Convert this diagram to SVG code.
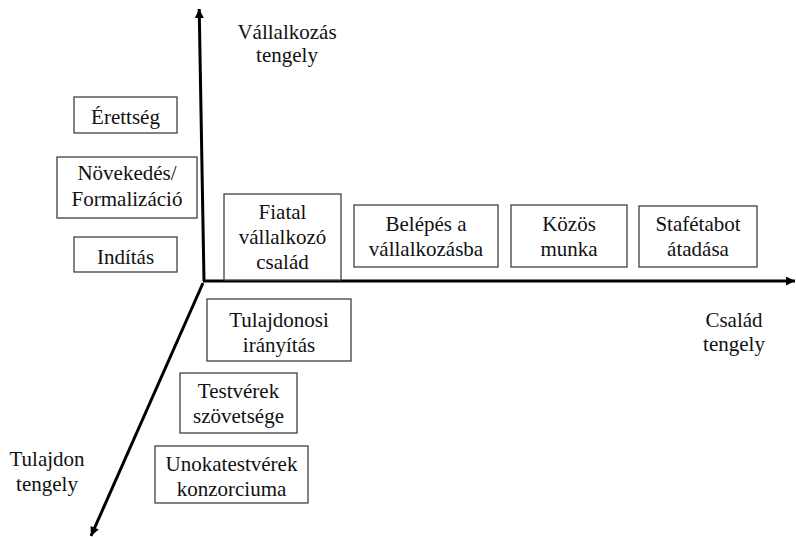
<svg xmlns="http://www.w3.org/2000/svg" width="796" height="537" viewBox="0 0 796 537">
<defs>
<marker id="ah" viewBox="0 0 10 10" refX="10" refY="5" markerWidth="11" markerHeight="9" markerUnits="userSpaceOnUse" orient="auto">
<path d="M0,0 L10,5 L0,10 z" fill="#000"/>
</marker>
</defs>
<style>
.box{fill:#fff;stroke:#404040;stroke-width:1.3}
.t{font-family:'Liberation Serif','Times New Roman',serif;font-size:21px;fill:#111;text-anchor:middle}
.ax{stroke:#000;stroke-width:3;fill:none}
</style>
<rect width="796" height="537" fill="#fff"/>
<g id="connectors">
<line class="ax" x1="204" y1="281" x2="199.2" y2="9" marker-end="url(#ah)"/>
<line class="ax" x1="203" y1="281" x2="795" y2="281" marker-end="url(#ah)"/>
<line class="ax" x1="203" y1="283" x2="91" y2="536" marker-end="url(#ah)"/>
</g>
<g id="label-vallalkozas"><text class="t"><tspan x="287" y="39">Vállalkozás</tspan><tspan x="287" y="62">tengely</tspan></text></g>
<g id="label-csalad"><text class="t"><tspan x="734" y="327">Család</tspan><tspan x="734" y="351">tengely</tspan></text></g>
<g id="label-tulajdon"><text class="t"><tspan x="47" y="466">Tulajdon</tspan><tspan x="47" y="491">tengely</tspan></text></g>
<g id="n-erettseg"><rect class="box" x="74" y="97" width="103" height="36"/><text class="t" x="125.5" y="124">Érettség</text></g>
<g id="n-novekedes"><rect class="box" x="57" y="157" width="140" height="61"/><text class="t"><tspan x="127" y="180">Növekedés/</tspan><tspan x="127" y="206">Formalizáció</tspan></text></g>
<g id="n-inditas"><rect class="box" x="74" y="237" width="103" height="35"/><text class="t" x="125.5" y="264">Indítás</text></g>
<g id="n-fiatal"><rect class="box" x="224" y="194" width="117" height="86"/><text class="t"><tspan x="282.5" y="219">Fiatal</tspan><tspan x="282.5" y="244">vállalkozó</tspan><tspan x="282.5" y="269">család</tspan></text></g>
<g id="n-belepes"><rect class="box" x="354" y="205" width="144" height="62"/><text class="t"><tspan x="426" y="231">Belépés a</tspan><tspan x="426" y="256">vállalkozásba</tspan></text></g>
<g id="n-kozos"><rect class="box" x="511" y="205" width="116" height="62"/><text class="t"><tspan x="569" y="231">Közös</tspan><tspan x="569" y="256">munka</tspan></text></g>
<g id="n-stafeta"><rect class="box" x="639" y="206" width="118" height="61"/><text class="t"><tspan x="698" y="231">Stafétabot</tspan><tspan x="698" y="256">átadása</tspan></text></g>
<g id="n-tulajdonosi"><rect class="box" x="207" y="299" width="144" height="62"/><text class="t"><tspan x="279" y="327">Tulajdonosi</tspan><tspan x="279" y="352">irányítás</tspan></text></g>
<g id="n-testverek"><rect class="box" x="180" y="373" width="117" height="60"/><text class="t"><tspan x="238.5" y="398">Testvérek</tspan><tspan x="238.5" y="423">szövetsége</tspan></text></g>
<g id="n-unoka"><rect class="box" x="155" y="446" width="153" height="57"/><text class="t"><tspan x="231.5" y="471">Unokatestvérek</tspan><tspan x="231.5" y="496">konzorciuma</tspan></text></g>
</svg>
